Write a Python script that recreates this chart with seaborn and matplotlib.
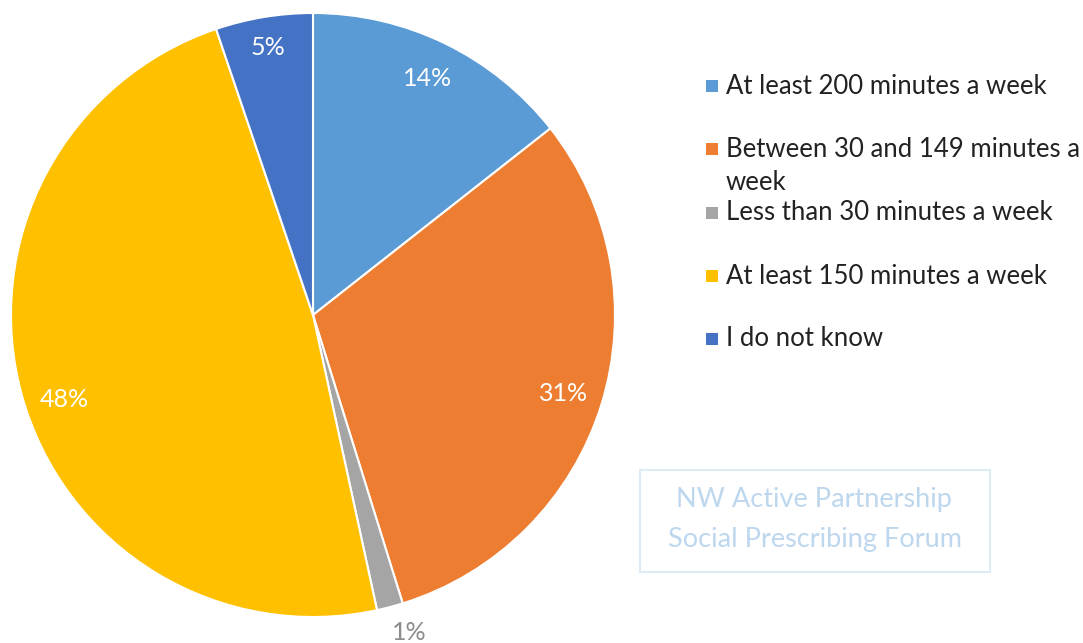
import matplotlib
matplotlib.use("Agg")
import matplotlib.pyplot as plt
from matplotlib.patches import Rectangle
import seaborn as sns

categories = ["At least 200 minutes a week",
              "Between 30 and 149 minutes a\nweek",
              "Less than 30 minutes a week",
              "At least 150 minutes a week",
              "I do not know"]
shares = [14.4, 30.8, 1.4, 48.2, 5.2]
pct_labels = ["14%", "31%", "1%", "48%", "5%"]
colors = sns.color_palette(["#5B9BD5", "#ED7D31", "#A5A5A5", "#FFC000", "#4472C4"])

sns.set_theme(style="white")
plt.rcParams['font.family'] = ['Lato', 'DejaVu Sans']

fig = plt.figure(figsize=(10.83, 6.43), dpi=100)
W, H = 1083, 643
cx, cy, r = 313, 315, 302
ax = fig.add_axes([(cx - r) / W, (H - cy - r) / H, 2 * r / W, 2 * r / H])

wedges, texts = ax.pie(shares, colors=colors, startangle=90, counterclock=False,
                       labels=pct_labels, labeldistance=0.87,
                       wedgeprops=dict(edgecolor="white", linewidth=1.5))
for t in texts:
    t.set_fontsize(18)
    t.set_ha("center")
    t.set_va("center")
    t.set_color("white")
# small slice label sits outside
texts[2].set_position((0.318, -1.05))
texts[2].set_color("#8C8C8C")
# nudge a couple of labels to where the reference puts them
texts[3].set_position((-0.825, -0.28))
texts[4].set_position((-0.15, 0.885))
ax.set_aspect("equal")
ax.set_xlim(-1, 1)
ax.set_ylim(-1, 1)
ax.axis("off")

# manual legend (second entry wraps to two lines)
leg_y = [86, 149, 213, 276, 339]
for yy, lab, col in zip(leg_y, categories, colors):
    fig.patches.append(Rectangle((706 / W, (H - yy - 6) / H), 12 / W, 12 / H,
                                 transform=fig.transFigure, facecolor=col,
                                 edgecolor="none"))
    if "\n" in lab:
        fig.text(726 / W, (H - yy + 12) / H, lab, fontsize=18.5, color="#222222",
                 va="top", ha="left", linespacing=1.4)
    else:
        fig.text(726 / W, (H - yy) / H, lab, fontsize=18.5, color="#222222",
                 va="center", ha="left")

# watermark box
fig.patches.append(Rectangle((640 / W, (H - 572) / H), 350 / W, 102 / H,
                             transform=fig.transFigure, facecolor="none",
                             edgecolor="#DDEBF7", linewidth=1.5))
fig.text(814 / W, (H - 500) / H, "NW Active Partnership", fontsize=19.5,
         color="#BDD7EE", ha="center", va="center")
fig.text(815 / W, (H - 540) / H, "Social Prescribing Forum", fontsize=19.5,
         color="#BDD7EE", ha="center", va="center")

fig.savefig("out.png", dpi=100)
